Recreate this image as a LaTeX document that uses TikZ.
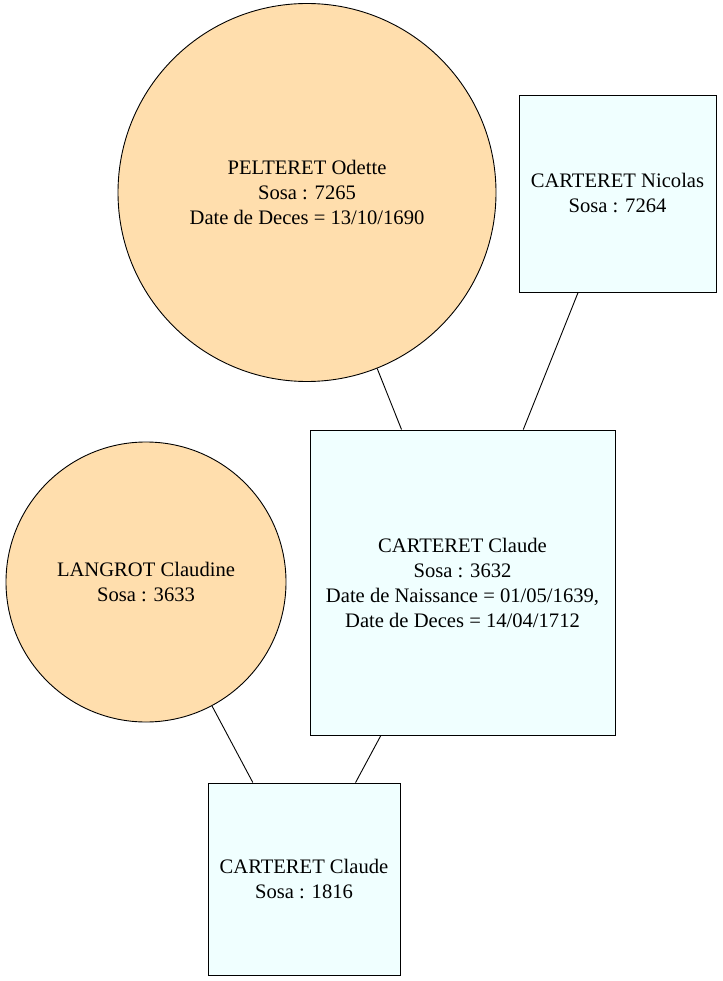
\documentclass[tikz,border=0pt]{standalone}
\usepackage{fontspec}
\setmainfont{Liberation Serif}
\definecolor{femme}{HTML}{FFDEAD}
\definecolor{homme}{HTML}{F0FFFF}
\begin{document}
\begin{tikzpicture}[x=1pt, y=1pt,
    every node/.style={align=center, font=\fontsize{20.6}{25}\selectfont, draw=black, line width=0.9pt, inner sep=0pt},
    woman/.style={circle, fill=femme},
    man/.style={rectangle, fill=homme},
    link/.style={line width=0.9pt, black}]

    \useasboundingbox (0,0) rectangle (722,-981);

    % Ancestors
    \node[woman, minimum size=378] (odette) at (307,-192.5) {PELTERET Odette\\Sosa : 7265\\Date de Deces = 13/10/1690};
    \node[man, minimum size=197] (nicolas) at (617.5,-193.5) {CARTERET Nicolas\\Sosa : 7264};

    % Parents
    \node[woman, minimum size=280] (claudine) at (146,-582) {LANGROT Claudine\\Sosa : 3633};
    \node[man, minimum size=305] (claudeA) at (462.5,-582.5) {CARTERET Claude\\Sosa : 3632\\Date de Naissance = 01/05/1639,\\Date de Deces = 14/04/1712};

    % Child
    \node[man, minimum size=192] (claudeB) at (304,-879) {CARTERET Claude\\Sosa : 1816};

    % Links
    \draw[link] (odette) -- (claudeA);
    \draw[link] (nicolas) -- (claudeA);
    \draw[link] (claudine) -- (claudeB);
    \draw[link] (claudeA) -- (claudeB);

\end{tikzpicture}
\end{document}
